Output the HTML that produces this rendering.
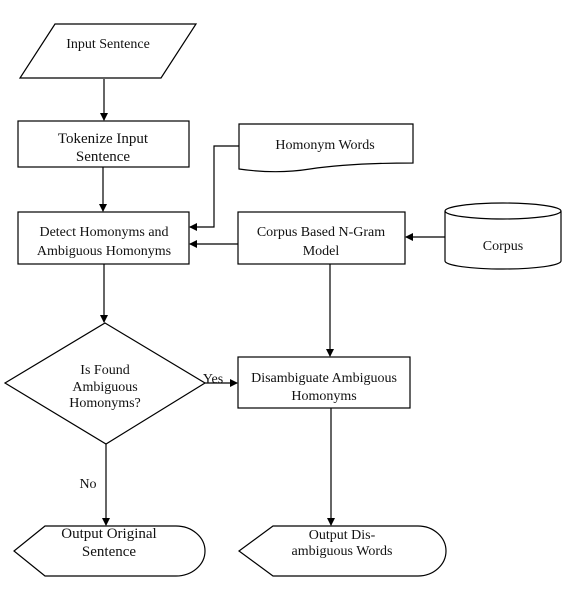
<!DOCTYPE html>
<html><head><meta charset="utf-8"><style>body{margin:0;background:#fff}svg{display:block}text{font-family:"Liberation Serif",serif;fill:#111;text-anchor:middle}</style></head>
<body>
<svg width="572" height="594" viewBox="0 0 572 594" xmlns="http://www.w3.org/2000/svg">
<defs><marker id="a" markerWidth="8" markerHeight="8" refX="7" refY="4" orient="auto" markerUnits="userSpaceOnUse"><path d="M0,0 L8,4 L0,8 z" fill="#000"/></marker></defs>
<g fill="none" stroke="#000" stroke-width="1.2">
<path d="M55,24 L196,24 L161,78 L20,78 z"/>
<rect x="18" y="121" width="171" height="46"/>
<rect x="18" y="212" width="171" height="52"/>
<path d="M239,124 L413,124 L413,163 C360,163 330,166 310,169 C285,173 260,172 239,169 z"/>
<rect x="238" y="212" width="167" height="52"/>
<path d="M445,211 L445,261 A58,8 0 0 0 561,261 L561,211"/>
<ellipse cx="503" cy="211" rx="58" ry="8"/>
<path d="M105,323 L205,383 L106,444 L5,383 z"/>
<rect x="238" y="357" width="172" height="51"/>
<path d="M45,526 L176,526 A29,25 0 0 1 176,576 L45,576 L14,551 z"/>
<path d="M273,526 L418,526 A28,25 0 0 1 418,576 L273,576 L239,551 z"/>
<path d="M104,79 L104,120" marker-end="url(#a)"/>
<path d="M103,167 L103,211" marker-end="url(#a)"/>
<path d="M239,146 L214,146 L214,227 L190,227" marker-end="url(#a)"/>
<path d="M238,244 L190,244" marker-end="url(#a)"/>
<path d="M445,237 L406,237" marker-end="url(#a)"/>
<path d="M104,264 L104,322" marker-end="url(#a)"/>
<path d="M330,264 L330,356" marker-end="url(#a)"/>
<path d="M205,383 L237,383" marker-end="url(#a)"/>
<path d="M106,444 L106,525" marker-end="url(#a)"/>
<path d="M331,408 L331,525" marker-end="url(#a)"/>
</g>
<text x="108" y="48" font-size="14">Input Sentence</text>
<text x="103" y="143" font-size="15">Tokenize Input</text>
<text x="103" y="161" font-size="15">Sentence</text>
<text x="104" y="236" font-size="14">Detect Homonyms and</text>
<text x="104" y="255" font-size="14">Ambiguous Homonyms</text>
<text x="325" y="149" font-size="14">Homonym Words</text>
<text x="321" y="236" font-size="14">Corpus Based N-Gram</text>
<text x="321" y="255" font-size="14">Model</text>
<text x="503" y="250" font-size="14">Corpus</text>
<text x="105" y="374" font-size="14">Is Found</text>
<text x="105" y="391" font-size="14">Ambiguous</text>
<text x="105" y="407" font-size="14">Homonyms?</text>
<text x="213" y="383" font-size="14">Yes</text>
<text x="324" y="382" font-size="14">Disambiguate Ambiguous</text>
<text x="324" y="400" font-size="14">Homonyms</text>
<text x="88" y="488" font-size="14">No</text>
<text x="109" y="538" font-size="15">Output Original</text>
<text x="109" y="556" font-size="15">Sentence</text>
<text x="342" y="539" font-size="14">Output Dis-</text>
<text x="342" y="555" font-size="14">ambiguous Words</text>
</svg>
</body></html>
